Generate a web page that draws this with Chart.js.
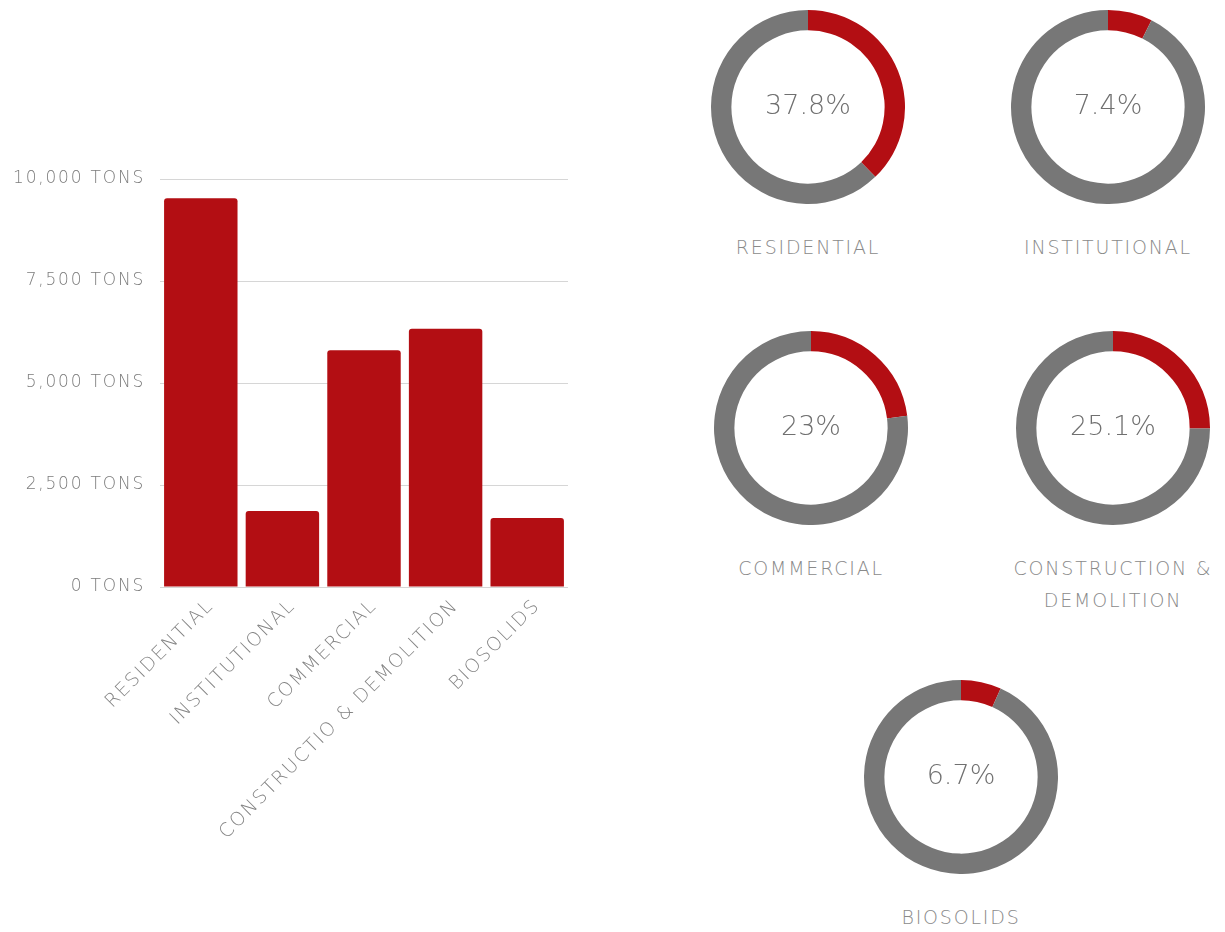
<!DOCTYPE html>
<html>
<head>
<meta charset="utf-8">
<script src="https://cdn.jsdelivr.net/npm/chart.js@4/dist/chart.umd.min.js"></script>
<style>
  body { margin: 0; background: #fff; font-family: "DejaVu Sans", sans-serif; }
  #wrap { position: relative; width: 1225px; height: 932px; overflow: hidden; }
  #bars { position: absolute; left: 0; top: 0; }
  .donut { position: absolute; width: 194px; height: 194px; }
  .pct { position: absolute; width: 200px; text-align: center; color: #707070; font-size: 27px; font-weight: 200; }
  .lbl { position: absolute; width: 260px; text-align: center; color: #8a8a8a; font-size: 19px; font-weight: 200; letter-spacing: 1.8px; line-height: 32px; }
</style>
</head>
<body>
<div id="wrap">
  <canvas id="bars" width="600" height="932"></canvas>
</div>
<script>
// values
var categories = ["RESIDENTIAL", "INSTITUTIONAL", "COMMERCIAL", "CONSTRUCTIO & DEMOLITION", "BIOSOLIDS"];
var tons = [9530, 1860, 5800, 6330, 1690];
var yTicks = [0, 2500, 5000, 7500, 10000];

var donutNames = [["RESIDENTIAL"], ["INSTITUTIONAL"], ["COMMERCIAL"], ["CONSTRUCTION &", "DEMOLITION"], ["BIOSOLIDS"]];
var shares = [37.8, 7.4, 23, 25.1, 6.7];
// donut centres on the page
var donutCentres = [[808, 107], [1108, 107], [811, 428], [1113, 428], [961, 777]];

var RED = "#b30e13";
var GREY = "#777777";

// wider lettering, the original font is a wide geometric one
var spacing = {
    id: "spacing",
    beforeUpdate: function (chart) { chart.ctx.letterSpacing = "1.8px"; },
    beforeDraw: function (chart) { chart.ctx.letterSpacing = "1.8px"; }
};

new Chart(document.getElementById("bars"), {
    type: "bar",
    data: {
        labels: categories,
        datasets: [{
            data: tons,
            backgroundColor: RED,
            borderRadius: 3,
            borderSkipped: "bottom",
            barPercentage: 0.9,
            categoryPercentage: 1.0
        }]
    },
    plugins: [spacing],
    options: {
        responsive: false,
        animation: false,
        layout: { padding: { top: 179, bottom: 45, right: 32 } },
        plugins: { legend: { display: false }, tooltip: { enabled: false } },
        scales: {
            y: {
                min: 0, max: 10000,
                afterBuildTicks: function (s) { s.ticks = yTicks.map(v => ({ value: v })); },
                afterFit: function (s) { s.width = 160; },
                border: { display: false },
                grid: { color: "#d6d6d6", drawTicks: false },
                ticks: {
                    padding: 15,
                    color: "#7c7c7c",
                    font: { family: "DejaVu Sans", size: 17, weight: "200" },
                    callback: v => v.toLocaleString("en-US") + " TONS"
                }
            },
            x: {
                afterFit: function (s) { s.height = 300; },
                border: { display: false },
                grid: { display: false },
                ticks: {
                    minRotation: 45, maxRotation: 45,
                    padding: 0,
                    labelOffset: 10,
                    color: "#848484",
                    font: { family: "DejaVu Sans", size: 19, weight: "200" }
                }
            }
        }
    }
});

var wrap = document.getElementById("wrap");
shares.forEach(function (p, i) {
    var cx = donutCentres[i][0], cy = donutCentres[i][1];
    var c = document.createElement("canvas");
    c.className = "donut";
    c.width = 194; c.height = 194;
    c.style.left = (cx - 97) + "px";
    c.style.top = (cy - 97) + "px";
    wrap.appendChild(c);

    new Chart(c, {
        type: "doughnut",
        data: {
            labels: ["share", "rest"],
            datasets: [{ data: [p, 100 - p], backgroundColor: [RED, GREY], borderWidth: 0 }]
        },
        options: {
            responsive: false,
            animation: false,
            cutout: "79%",
            plugins: { legend: { display: false }, tooltip: { enabled: false } }
        }
    });

    var t = document.createElement("div");
    t.className = "pct";
    t.textContent = p + "%";
    t.style.left = (cx - 100) + "px";
    t.style.top = (cy - 18) + "px";
    wrap.appendChild(t);

    var l = document.createElement("div");
    l.className = "lbl";
    l.innerHTML = donutNames[i].join("<br>");
    l.style.left = (cx - 130) + "px";
    l.style.top = (cy + 124) + "px";
    wrap.appendChild(l);
});
</script>
</body>
</html>
